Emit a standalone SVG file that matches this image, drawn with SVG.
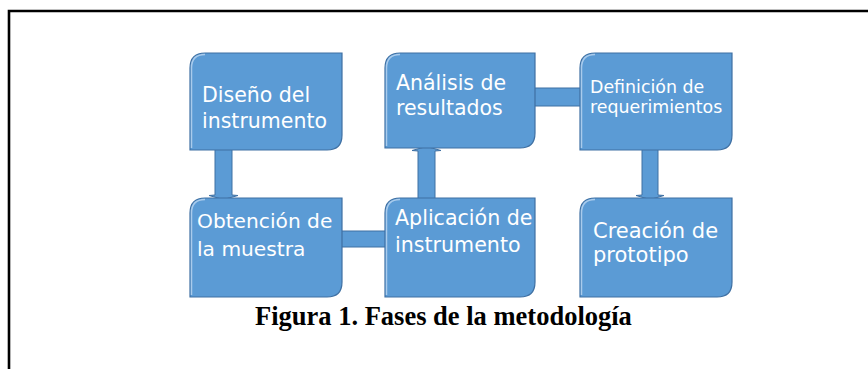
<svg xmlns="http://www.w3.org/2000/svg" width="868" height="369" viewBox="0 0 868 369">
<style>
.box{fill:#5b9bd5;stroke:#3f70a3;stroke-width:1.2}
.hl{fill:none;stroke:#a9cbec;stroke-width:1.5}
.bar{fill:#5b9bd5;stroke:#3f70a3;stroke-width:1}
.t{font-family:"DejaVu Sans",Verdana,sans-serif;fill:#ffffff}
.cap{font-family:"Liberation Serif","Times New Roman",serif;font-weight:bold;font-size:26.5px;fill:#000}
</style>
<rect width="868" height="369" fill="#fff"/>
<path d="M9,369 V11 H868" fill="none" stroke="#000" stroke-width="2.6"/>
<g id="connectors">
<path class="bar" d="M215,148 V195 L209,195.5 L223.5,199.5 L238,195.5 L232,195 V148 Z"/>
<path class="bar" d="M418,200 V151 L412,150.5 L426.5,146.5 L441,150.5 L435,151 V200 Z"/>
<path class="bar" d="M642,148 V195 L636,195.5 L650,199.5 L664,195.5 L658,195 V148 Z"/>
<rect class="bar" x="533" y="88" width="49" height="18"/>
<rect class="bar" x="340" y="231" width="47" height="16"/>
</g>
<g id="n1">
<path class="box" d="M205,53 H342 V135 Q342,150 327,150 H190 V68 Q190,53 205,53 Z"/>
<path class="hl" d="M191.5,148 V68 Q191.5,54.5 205,54.5"/>
<text class="t" font-size="20.5" x="202" y="102">Diseño del</text>
<text class="t" font-size="20.5" x="202" y="128">instrumento</text>
</g>
<g id="n2">
<path class="box" d="M400,53 H535 V133 Q535,148 520,148 H385 V68 Q385,53 400,53 Z"/>
<path class="hl" d="M386.5,146 V68 Q386.5,54.5 400,54.5"/>
<text class="t" font-size="20.5" x="396" y="90">Análisis de</text>
<text class="t" font-size="20.5" x="396" y="115">resultados</text>
</g>
<g id="n3">
<path class="box" d="M595,53 H732 V135 Q732,150 717,150 H580 V68 Q580,53 595,53 Z"/>
<path class="hl" d="M581.5,148 V68 Q581.5,54.5 595,54.5"/>
<text class="t" font-size="17.4" x="590" y="93">Definición de</text>
<text class="t" font-size="17.4" x="590" y="113">requerimientos</text>
</g>
<g id="n4">
<path class="box" d="M205,198 H342 V282 Q342,297 327,297 H190 V213 Q190,198 205,198 Z"/>
<path class="hl" d="M191.5,295 V213 Q191.5,199.5 205,199.5"/>
<text class="t" font-size="20.2" x="197" y="228">Obtención de</text>
<text class="t" font-size="20.2" x="197" y="256">la muestra</text>
</g>
<g id="n5">
<path class="box" d="M400,198 H535 V282 Q535,297 520,297 H385 V213 Q385,198 400,198 Z"/>
<path class="hl" d="M386.5,295 V213 Q386.5,199.5 400,199.5"/>
<text class="t" font-size="20.6" x="395" y="225">Aplicación de</text>
<text class="t" font-size="20.6" x="395" y="252">instrumento</text>
</g>
<g id="n6">
<path class="box" d="M595,198 H732 V282 Q732,297 717,297 H580 V213 Q580,198 595,198 Z"/>
<path class="hl" d="M581.5,295 V213 Q581.5,199.5 595,199.5"/>
<text class="t" font-size="21" x="593" y="238">Creación de</text>
<text class="t" font-size="21" x="593" y="262">prototipo</text>
</g>
<text class="cap" x="255" y="325">Figura 1. Fases de la metodología</text>
</svg>
